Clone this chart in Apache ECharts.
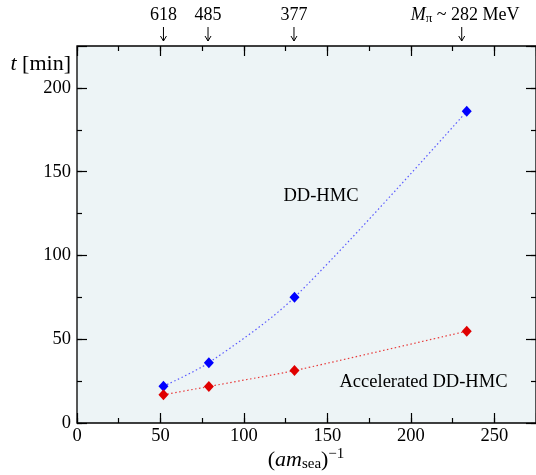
<!DOCTYPE html>
<html>
<head>
<meta charset="utf-8">
<script src="https://cdn.jsdelivr.net/npm/echarts@6/dist/echarts.min.js"></script>
<style>
  html, body { margin: 0; padding: 0; background: #fff; }
  .chart { width: 536px; height: 475px; }
</style>
</head>
<body>
<div class="chart"></div>
<script>
// inverse sea quark mass values and timings
const invMass = [51.8, 79.0, 130.3, 233.5];
const ddhmc = [22, 36, 75, 186];
const accel = [16.8, 21.8, 31.3, 54.8];
// pion masses marked on top
const pionX = [51.8, 78.5, 130, 230.5];
const pionLabels = ['618', '485', '377', '282'];

~function () {
  let myChart = echarts.init(document.querySelector('.chart'));
  const font = 'Liberation Serif';
  const X_MAX = 275, Y_MAX = 225;

  const pairs = ys => ys.map((y, i) => [invMass[i], y]);
  const lbl50 = v => (v % 50 === 0 ? String(v) : '');

  // two overlaid axes per side: short ticks every 25, long ticks every 50
  function ax(pos, max, step, len, labels, margin) {
    return {
      type: 'value', position: pos, min: 0, max: max, interval: step,
      axisLine: { show: false, onZero: false },
      axisTick: { show: true, inside: true, length: len, lineStyle: { color: '#000', width: 1.2 } },
      axisLabel: {
        show: labels, formatter: lbl50, showMaxLabel: false, margin: margin,
        color: '#000', fontFamily: font, fontSize: 18.5
      },
      splitLine: { show: false }
    };
  }

  let option = {
    animation: false,
    grid: {
      left: 77, top: 46, right: -1, bottom: 52,
      show: true, borderColor: '#000', borderWidth: 1.3,
      backgroundColor: '#edf4f6'
    },
    xAxis: [
      ax('bottom', X_MAX, 25, 5, true, 4),
      ax('bottom', X_MAX, 50, 10, false, 4),
      ax('top', X_MAX, 25, 5, false, 4),
      ax('top', X_MAX, 50, 10, false, 4)
    ],
    yAxis: [
      ax('left', Y_MAX, 25, 5, true, 6),
      ax('left', Y_MAX, 50, 10, false, 6),
      ax('right', Y_MAX, 25, 5, false, 6),
      ax('right', Y_MAX, 50, 10, false, 6)
    ],
    series: [
      {
        name: 'DD-HMC',
        type: 'line',
        data: pairs(ddhmc),
        smooth: 0.3,
        symbol: 'diamond',
        symbolSize: [10, 11],
        itemStyle: { color: '#0000ff' },
        lineStyle: { color: '#5a5aff', width: 1.2, type: [1.5, 2.5] },
        z: 3
      },
      {
        name: 'Accelerated DD-HMC',
        type: 'line',
        data: pairs(accel),
        smooth: 0.2,
        symbol: 'diamond',
        symbolSize: [10, 11],
        itemStyle: { color: '#e00000' },
        lineStyle: { color: '#e83a3a', width: 1.2, type: [1.5, 2.5] },
        z: 3
      }
    ]
  };
  myChart.setOption(option);

  // labels, axis titles and the pion mass arrows on top
  const gfx = [
    {
      type: 'text', x: 71, y: 64,
      style: {
        text: '{i|t} [min]', fill: '#000', font: '22px ' + font,
        align: 'right', verticalAlign: 'middle',
        rich: { i: { fontStyle: 'italic', fontFamily: font, fontSize: 22 } }
      }
    },
    {
      type: 'text', x: 306, y: 473,
      style: {
        text: '({i|am}{sub|sea}){sup|−1}', fill: '#000', font: '22px ' + font,
        align: 'center', verticalAlign: 'bottom',
        rich: {
          i: { fontStyle: 'italic', fontFamily: font, fontSize: 22 },
          sub: { fontFamily: font, fontSize: 15, padding: [9, 0, 0, 0] },
          sup: { fontFamily: font, fontSize: 15, padding: [0, 0, 11, 0] }
        }
      }
    },
    {
      type: 'text', x: 321, y: 196,
      style: { text: 'DD-HMC', fill: '#000', font: '18.5px ' + font, align: 'center', verticalAlign: 'middle' }
    },
    {
      type: 'text', x: 423.5, y: 382,
      style: { text: 'Accelerated DD-HMC', fill: '#000', font: '18.5px ' + font, align: 'center', verticalAlign: 'middle' }
    }
  ];
  pionX.forEach((v, i) => {
    const px = myChart.convertToPixel({ xAxisIndex: 0 }, v);
    gfx.push({ type: 'line', shape: { x1: px, y1: 27, x2: px, y2: 41 }, style: { stroke: '#000', lineWidth: 1 } });
    gfx.push({ type: 'polyline', shape: { points: [[px - 3, 36], [px, 41], [px + 3, 36]] }, style: { stroke: '#000', lineWidth: 1, fill: null } });
    if (i < pionX.length - 1) {
      gfx.push({
        type: 'text', x: px, y: 15,
        style: { text: pionLabels[i], fill: '#000', font: '18px ' + font, align: 'center', verticalAlign: 'middle' }
      });
    } else {
      gfx.push({
        type: 'text', x: px - 51, y: 15,
        style: {
          text: '{i|M}{sub|π} ~ ' + pionLabels[i] + ' MeV', fill: '#000', font: '18px ' + font,
          align: 'left', verticalAlign: 'middle',
          rich: {
            i: { fontStyle: 'italic', fontFamily: font, fontSize: 18 },
            sub: { fontFamily: font, fontSize: 13, padding: [8, 0, 0, 0] }
          }
        }
      });
    }
  });
  myChart.setOption({ graphic: gfx });
}();
</script>
</body>
</html>
